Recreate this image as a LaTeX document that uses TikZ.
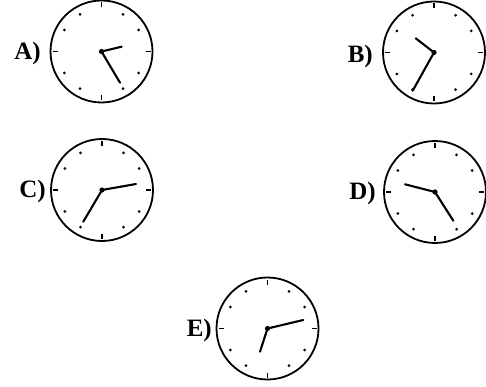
\documentclass[tikz,border=0pt]{standalone}
\usepackage{fontspec}
\setmainfont{Liberation Serif}
\begin{document}
\begin{tikzpicture}[x=1pt,y=-1pt]
\useasboundingbox[fill=white] (0,0) rectangle (486,387);
\tikzset{
  rim/.style={line width=1.8pt},
  hand/.style={line width=2.1pt, line cap=round},
  lbl/.style={font=\fontsize{25}{25}\selectfont\bfseries, anchor=base east, inner sep=0pt},
  clockface/.pic={
    \draw[rim] (0,0) circle (51);
    \foreach \a in {0,90,180,270} \draw[line width=1.4pt] (\a:44) -- (\a:49);
    \foreach \a in {30,60,120,150,210,240,300,330} \fill (\a:43) circle (1.5);
    \fill (0,0) circle (2.6);
  }
}
% centres
\coordinate (cA) at (101.5,51.5);
\coordinate (cB) at (434,52.5);
\coordinate (cC) at (102,190);
\coordinate (cD) at (435,192);
\coordinate (cE) at (267.5,328.5);
% hand tips
\coordinate (hA1) at (121.7,46.7); \coordinate (hA2) at (120,82.7);
\coordinate (hB1) at (415.7,38.3); \coordinate (hB2) at (412.7,90.7);
\coordinate (hC1) at (136,184);    \coordinate (hC2) at (83.3,221.7);
\coordinate (hD1) at (405,184.3);  \coordinate (hD2) at (453.3,220.7);
\coordinate (hE1) at (303.3,320);  \coordinate (hE2) at (260,351.7);
% faces
\pic at (cA) {clockface};
\pic at (cB) {clockface};
\pic at (cC) {clockface};
\pic at (cD) {clockface};
\pic at (cE) {clockface};
% hands
\draw[hand] (cA) -- (hA1); \draw[hand] (cA) -- (hA2);
\draw[hand] (cB) -- (hB1); \draw[hand] (cB) -- (hB2);
\draw[hand] (cC) -- (hC1); \draw[hand] (cC) -- (hC2);
\draw[hand] (cD) -- (hD1); \draw[hand] (cD) -- (hD2);
\draw[hand] (cE) -- (hE1); \draw[hand] (cE) -- (hE2);
% labels
\node[lbl] (lA) at (41,60) {A)};
\node[lbl] (lB) at (373,63) {B)};
\node[lbl] (lC) at (46,197) {C)};
\node[lbl] (lD) at (376,200) {D)};
\node[lbl] (lE) at (212,336) {E)};
\end{tikzpicture}
\end{document}
